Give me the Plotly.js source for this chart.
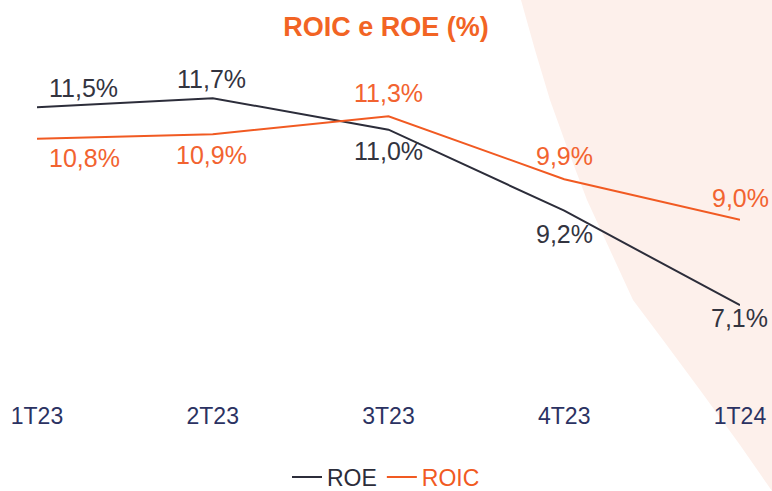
<!DOCTYPE html>
<html>
<head>
<meta charset="utf-8">
<script src="https://cdn.plot.ly/plotly-3.0.1.min.js"></script>
<style>html,body{margin:0;padding:0;background:#fff;}#chart{width:772px;height:491px;}</style>
</head>
<body>
<div id="chart"></div>
<script>
// ---- data ----
const quarters = ["1T23", "2T23", "3T23", "4T23", "1T24"];
const roe = [11.5, 11.7, 11.0, 9.2, 7.1];
const roic = [10.8, 10.9, 11.3, 9.9, 9.0];
const seriesNames = ["ROE", "ROIC"];
const chartTitle = "ROIC e ROE (%)";

// ---- style ----
const W = 772, H = 491;
const M = {l: 37, r: 32, t: 60, b: 91, autoexpand: false};
const pw = W - M.l - M.r, ph = H - M.t - M.b;
const colROE = "#2c2d3a", colROELabel = "#33343f";
const colROIC = "#f15a22", colROICLabel = "#f26330";
const FONT = "Liberation Sans, Arial, sans-serif";

// label offsets (pixels) per point
const roeShift = [[46, 19], [-1, 19], [0, -21], [0, -23], [-1, -13]];
const roicShift = [[47, -19], [-1, -21], [0, 23], [0, 23], [0, 22]];

const fmt = v => v.toFixed(1).replace(".", ",") + "%";

const traces = [
  {x: quarters, y: roe, type: "scatter", mode: "lines", name: seriesNames[0],
   line: {color: colROE, width: 2}, cliponaxis: false, hoverinfo: "skip"},
  {x: quarters, y: roic, type: "scatter", mode: "lines",
   name: '<span style="color:' + colROIC + '">' + seriesNames[1] + '</span>',
   line: {color: colROIC, width: 2}, cliponaxis: false, hoverinfo: "skip"}
];

const annotations = [];
roe.forEach((v, i) => annotations.push({x: quarters[i], y: v, text: fmt(v), showarrow: false,
  xshift: roeShift[i][0], yshift: roeShift[i][1], font: {family: FONT, size: 25, color: colROELabel}}));
roic.forEach((v, i) => annotations.push({x: quarters[i], y: v, text: fmt(v), showarrow: false,
  xshift: roicShift[i][0], yshift: roicShift[i][1], font: {family: FONT, size: 25, color: colROICLabel}}));

// decorative pink background curve (pixel points -> paper)
const bgPts = [[521,0],[535,50],[550,100],[568,150],[587,200],[610,250],[633,300],[663,340],[700,390],[740,445],[772,491]];
const px = x => (x - M.l) / pw, py = y => (H - M.b - y) / ph;
let path = "M" + px(bgPts[0][0]) + "," + py(bgPts[0][1]);
for (let k = 1; k < bgPts.length; k++) path += " L" + px(bgPts[k][0]) + "," + py(bgPts[k][1]);
path += " L" + px(W) + "," + py(H) + " L" + px(W) + "," + py(0) + " Z";

const layout = {
  width: W, height: H,
  margin: M,
  paper_bgcolor: "#ffffff", plot_bgcolor: "rgba(0,0,0,0)",
  font: {family: FONT, color: colROE},
  title: {text: "<b>" + chartTitle + "</b>", font: {family: FONT, size: 27, color: "#f26424"},
          x: 0.5, xref: "container", y: 1 - 27 / H, yref: "container", yanchor: "middle", xanchor: "center"},
  xaxis: {type: "category", range: [0, 4], showgrid: false, zeroline: false, showline: false,
          ticks: "", tickfont: {family: FONT, size: 23, color: "#2b3262"}, fixedrange: true, automargin: false},
  yaxis: {visible: false, range: [(624.7 - (H - M.b)) / 45, (624.7 - M.t) / 45], fixedrange: true},
  showlegend: true,
  legend: {orientation: "h", x: 0.5, xanchor: "center", xref: "container",
           y: py(477), yanchor: "middle", tracegroupgap: 0, itemwidth: 30,
           font: {family: FONT, size: 23, color: colROE}, bgcolor: "rgba(0,0,0,0)"},
  shapes: [{type: "path", xref: "paper", yref: "paper", path: path, fillcolor: "#fdf0eb",
            line: {width: 0}, layer: "below"}],
  annotations: annotations
};

Plotly.newPlot("chart", traces, layout, {displayModeBar: false, staticPlot: true});
</script>
</body>
</html>
